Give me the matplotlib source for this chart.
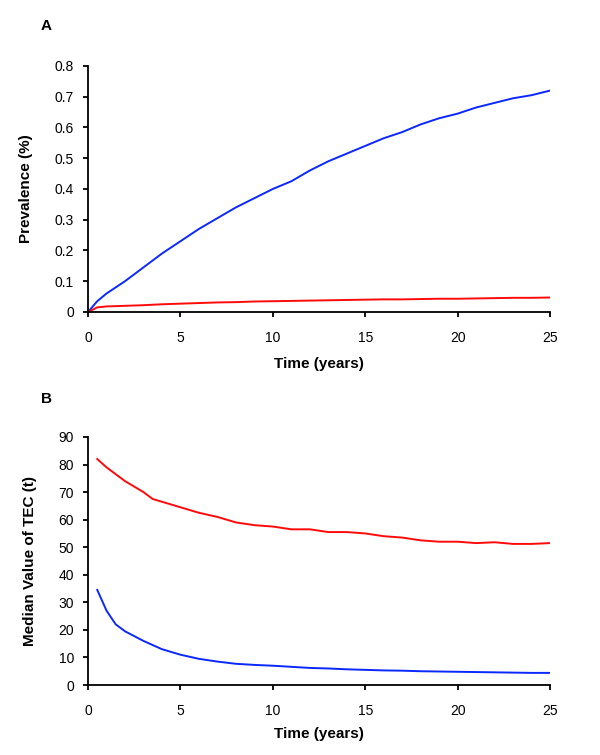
import matplotlib
matplotlib.use("Agg")
import matplotlib.pyplot as plt

plt.rcParams['font.family'] = ['Liberation Sans', 'DejaVu Sans']

# panel A: prevalence (%)
years_a = [0, 0.5, 1, 2, 3, 4, 5, 6, 7, 8, 9, 10, 11, 12, 13, 14, 15,
           16, 17, 18, 19, 20, 21, 22, 23, 24, 25]
prev_blue = [0, 0.035, 0.06, 0.10, 0.145, 0.19, 0.23, 0.27, 0.305, 0.34, 0.37,
             0.40, 0.425, 0.46, 0.49, 0.515, 0.54, 0.565, 0.585, 0.61, 0.63,
             0.645, 0.665, 0.68, 0.695, 0.705, 0.72]
prev_red = [0, 0.015, 0.018, 0.02, 0.022, 0.025, 0.027, 0.029, 0.031, 0.032, 0.034,
            0.035, 0.036, 0.037, 0.038, 0.039, 0.04, 0.041, 0.041, 0.042, 0.043,
            0.043, 0.044, 0.045, 0.046, 0.046, 0.047]

# panel B: median value of TEC (t)
years_b = [0.5, 1, 1.5, 2, 3, 3.5, 4, 5, 6, 7, 8, 9, 10, 11, 12, 13, 14, 15,
           16, 17, 18, 19, 20, 21, 22, 23, 24, 25]
tec_red = [82, 79, 76.5, 74, 70, 67.5, 66.5, 64.5, 62.5, 61, 59, 58, 57.5,
           56.5, 56.5, 55.5, 55.5, 55, 54, 53.5, 52.5, 52, 52, 51.5, 51.8, 51.2,
           51.2, 51.5]
tec_blue = [34.5, 27, 22, 19.5, 16, 14.5, 13, 11, 9.5, 8.5, 7.7, 7.3, 7,
            6.6, 6.2, 6, 5.7, 5.5, 5.3, 5.2, 5, 4.9, 4.8, 4.7, 4.6, 4.5, 4.4, 4.4]

blue = '#0a28ff'
red = '#ff0a0a'

fig = plt.figure(figsize=(6, 7.55), dpi=100)
ax1 = fig.add_axes([0.1467, 0.5868, 0.77, 0.3258])
ax2 = fig.add_axes([0.1467, 0.0927, 0.77, 0.3285])

ax1.plot(years_a, prev_blue, color=blue, lw=1.4)
ax1.plot(years_a, prev_red, color=red, lw=1.4)
ax1.set_xlim(0, 25)
ax1.set_ylim(0, 0.8)
ax1.set_yticks([0, 0.1, 0.2, 0.3, 0.4, 0.5, 0.6, 0.7, 0.8])
ax1.set_yticklabels(['0', '0.1', '0.2', '0.3', '0.4', '0.5', '0.6', '0.7', '0.8'])
ax1.set_ylabel('Prevalence (%)', fontweight='bold', fontsize=11)
ax1.yaxis.set_label_coords(-0.119, 0.5)
ax1.set_xlabel('Time (years)', fontweight='bold', fontsize=11)
ax1.xaxis.set_label_coords(0.5, -0.183)

ax2.plot(years_b, tec_red, color=red, lw=1.4)
ax2.plot(years_b, tec_blue, color=blue, lw=1.4)
ax2.set_xlim(0, 25)
ax2.set_ylim(0, 90)
ax2.set_yticks(range(0, 91, 10))
ax2.set_ylabel('Median Value of TEC (t)', fontweight='bold', fontsize=11)
ax2.yaxis.set_label_coords(-0.11, 0.5)
ax2.set_xlabel('Time (years)', fontweight='bold', fontsize=11)
ax2.xaxis.set_label_coords(0.5, -0.169)

for ax in (ax1, ax2):
    ax.set_xticks([0, 5, 10, 15, 20, 25])
    ax.spines['top'].set_visible(False)
    ax.spines['right'].set_visible(False)
    ax.spines['left'].set_linewidth(1.3)
    ax.spines['bottom'].set_linewidth(1.3)
    ax.tick_params(labelsize=10, width=1.3, length=3.6)
    ax.tick_params(axis='x', pad=10)
    ax.tick_params(axis='y', pad=6.5)

fig.text(0.068, 0.966, 'A', fontweight='bold', fontsize=11, ha='left', va='center')
fig.text(0.068, 0.471, 'B', fontweight='bold', fontsize=11, ha='left', va='center')

fig.savefig('out.png', dpi=100)
